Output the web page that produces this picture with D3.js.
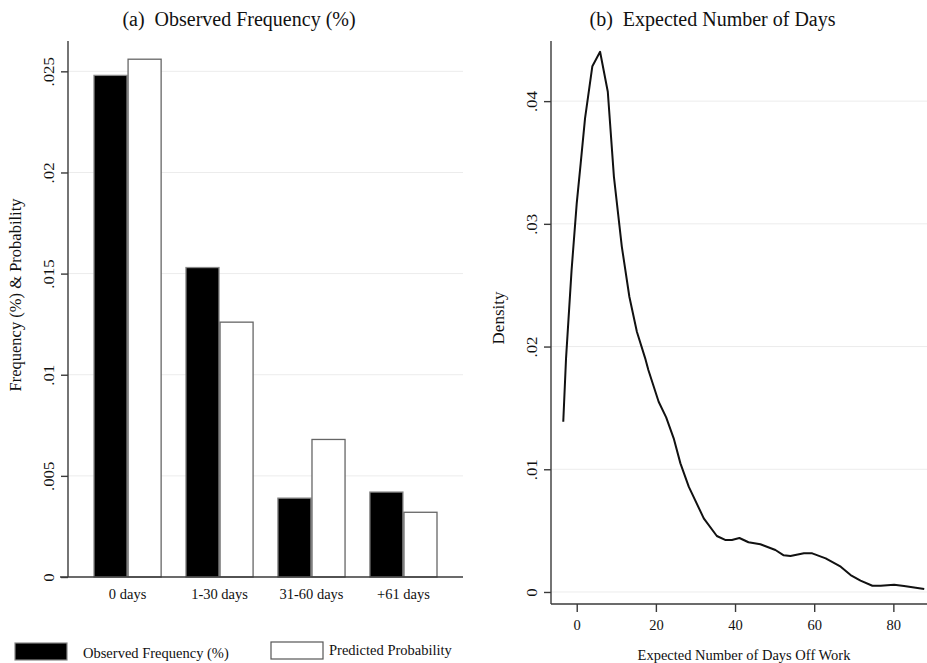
<!DOCTYPE html>
<html>
<head>
<meta charset="utf-8">
<script src="https://cdn.jsdelivr.net/npm/d3@7"></script>
<style>
  body { margin: 0; background: #fff; }
  svg { display: block; font-family: "Liberation Serif", "Times New Roman", serif; }
</style>
</head>
<body>
<div id="chart"></div>
<script>
// panel (a): observed vs predicted by duration group
var categories = ["0 days", "1-30 days", "31-60 days", "+61 days"];
var observed = [0.0248, 0.0153, 0.0039, 0.0042];
var predicted = [0.0256, 0.0126, 0.0068, 0.0032];
var seriesNames = ["Observed Frequency (%)", "Predicted Probability"];
var barTicks = [0, 0.005, 0.01, 0.015, 0.02, 0.025];

// panel (b): density of expected days off work
var daysX = [-3.4, -2.7, -1.3, 0, 1.0, 2.1, 3.95, 5.9, 7.85, 9.4, 11.4, 13.3, 15.2, 17.3, 18.1, 20.7,
  22.6, 24.5, 26.2, 28.3, 32.1, 35.4, 37.5, 39.2, 41.1, 43.4, 46.4, 50.2, 52.3, 54.0, 57.4, 59.5,
  62.9, 66.7, 69.2, 71.7, 74.7, 76.8, 80.2, 82.7, 87.8];
var densityY = [0.01387, 0.01904, 0.02623, 0.03167, 0.03492, 0.03859, 0.04285, 0.04402, 0.04076,
  0.03383, 0.02813, 0.02406, 0.02121, 0.01904, 0.01809, 0.0155, 0.01423, 0.01252, 0.01048, 0.00858,
  0.006, 0.00456, 0.00424, 0.00424, 0.0044, 0.00405, 0.00389, 0.00342, 0.00299, 0.00293, 0.00315,
  0.00315, 0.00274, 0.00206, 0.00138, 0.00092, 0.00051, 0.00051, 0.00059, 0.00049, 0.00024];
var densTicks = [0, 0.01, 0.02, 0.03, 0.04];
var dayTicks = [0, 20, 40, 60, 80];

var fmt = function(d) { return d === 0 ? "0" : d3.format(".3~f")(d).replace(/^0/, ""); };
var serif = "'Liberation Serif', 'Times New Roman', serif";

var svg = d3.select("#chart").append("svg")
    .attr("width", 927)
    .attr("height", 663);

var axisColor = "#3a3a3a", gridColor = "#ececec";

// ---------- panel (a) ----------
var ya = d3.scaleLinear().domain([0, 0.0265]).range([577, 41]);
var xa = d3.scaleBand().domain(categories).range([94, 437]).paddingInner(0.27).paddingOuter(0);
var xs = d3.scaleBand().domain(seriesNames).range([0, xa.bandwidth()]).paddingInner(0.03);

var pa = svg.append("g").attr("class", "panel-a");

pa.append("g").attr("class", "grid")
  .selectAll("line").data(barTicks.filter(function(d) { return d > 0; })).enter()
  .append("line")
    .attr("x1", 68).attr("x2", 463)
    .attr("y1", function(d) { return ya(d); })
    .attr("y2", function(d) { return ya(d); })
    .attr("stroke", gridColor).attr("stroke-width", 1);

var rows = categories.map(function(c, i) { return { cat: c, vals: [observed[i], predicted[i]] }; });

var groups = pa.append("g").attr("class", "bars")
  .selectAll("g").data(rows).enter()
  .append("g")
    .attr("transform", function(d) { return "translate(" + xa(d.cat) + ",0)"; });

groups.selectAll("rect")
  .data(function(d) { return d.vals.map(function(v, j) { return { s: seriesNames[j], v: v, j: j }; }); })
  .enter().append("rect")
    .attr("x", function(d) { return xs(d.s); })
    .attr("width", xs.bandwidth())
    .attr("y", function(d) { return ya(d.v); })
    .attr("height", function(d) { return ya(0) - ya(d.v); })
    .attr("fill", function(d) { return d.j === 0 ? "#000" : "#fff"; })
    .attr("stroke", function(d) { return d.j === 0 ? "#888" : "#666"; })
    .attr("stroke-width", 1.3);

var yAxisA = pa.append("g")
    .attr("transform", "translate(68,0)")
    .call(d3.axisLeft(ya).tickValues(barTicks).tickFormat(fmt).tickSize(7).tickSizeOuter(0))
    .attr("font-family", serif);
yAxisA.select(".domain").attr("d", "M0,41V577").attr("stroke", axisColor).attr("stroke-width", 1.4);
yAxisA.selectAll(".tick line").attr("stroke", axisColor).attr("stroke-width", 1.4);
yAxisA.selectAll(".tick text")
    .attr("x", null).attr("dy", null)
    .attr("transform", "translate(-14,0) rotate(-90) scale(1.2,1)")
    .attr("text-anchor", "middle")
    .attr("font-size", 14).attr("fill", "#111");

// baseline / x axis
var xAxisA = pa.append("g")
    .attr("transform", "translate(0,577)")
    .call(d3.axisBottom(xa).tickSize(0).tickPadding(0))
    .attr("font-family", serif);
xAxisA.select(".domain").attr("d", "M60,0H463").attr("stroke", axisColor).attr("stroke-width", 1.4);
xAxisA.selectAll(".tick text")
    .attr("y", 22).attr("dy", null)
    .attr("font-size", 14.5).attr("fill", "#111");

pa.append("text")
    .attr("transform", "translate(21,295) rotate(-90)")
    .attr("text-anchor", "middle")
    .attr("font-size", 16.5).attr("fill", "#111")
    .text("Frequency (%) & Probability");

pa.append("text")
    .attr("x", 239).attr("y", 26)
    .attr("text-anchor", "middle")
    .attr("font-size", 20).attr("fill", "#111")
    .attr("xml:space", "preserve")
    .text("(a)  Observed Frequency (%)");

// legend
var legend = pa.append("g").attr("class", "legend")
  .selectAll("g").data(seriesNames).enter().append("g");
var legX = [15, 271], legY = [643, 642], legTX = [83, 329], legTY = [658, 655];
legend.append("rect")
    .attr("x", function(d, i) { return legX[i]; })
    .attr("y", function(d, i) { return legY[i]; })
    .attr("width", 52).attr("height", 17)
    .attr("fill", function(d, i) { return i === 0 ? "#000" : "#fff"; })
    .attr("stroke", function(d, i) { return i === 0 ? "#888" : "#555"; })
    .attr("stroke-width", 1.2);
legend.append("text")
    .attr("x", function(d, i) { return legTX[i]; })
    .attr("y", function(d, i) { return legTY[i]; })
    .attr("font-size", 14.5).attr("fill", "#111")
    .text(function(d) { return d; });

// ---------- panel (b) ----------
var xb = d3.scaleLinear().domain([-6.5, 88.5]).range([551, 927]);
var yb = d3.scaleLinear().domain([-0.00098, 0.0449]).range([604, 41]);

var pb = svg.append("g").attr("class", "panel-b");

pb.append("g").attr("class", "grid")
  .selectAll("line").data(densTicks).enter()
  .append("line")
    .attr("x1", 551).attr("x2", 927)
    .attr("y1", function(d) { return yb(d); })
    .attr("y2", function(d) { return yb(d); })
    .attr("stroke", gridColor).attr("stroke-width", 1);

var yAxisB = pb.append("g")
    .attr("transform", "translate(551,0)")
    .call(d3.axisLeft(yb).tickValues(densTicks).tickFormat(fmt).tickSize(7).tickSizeOuter(0))
    .attr("font-family", serif);
yAxisB.select(".domain").attr("d", "M0,41V604").attr("stroke", axisColor).attr("stroke-width", 1.4);
yAxisB.selectAll(".tick line").attr("stroke", axisColor).attr("stroke-width", 1.4);
yAxisB.selectAll(".tick text")
    .attr("x", null).attr("dy", null)
    .attr("transform", "translate(-14,0) rotate(-90) scale(1.2,1)")
    .attr("text-anchor", "middle")
    .attr("font-size", 14).attr("fill", "#111");

var xAxisB = pb.append("g")
    .attr("transform", "translate(0,604)")
    .call(d3.axisBottom(xb).tickValues(dayTicks).tickSize(8).tickSizeOuter(0))
    .attr("font-family", serif);
xAxisB.select(".domain").attr("d", "M551,0H927").attr("stroke", axisColor).attr("stroke-width", 1.4);
xAxisB.selectAll(".tick line").attr("stroke", axisColor).attr("stroke-width", 1.4);
xAxisB.selectAll(".tick text")
    .attr("y", 26).attr("dy", null)
    .attr("font-size", 14.5).attr("fill", "#111");

var pts = daysX.map(function(x, i) { return [x, densityY[i]]; });
pb.append("path")
    .datum(pts)
    .attr("fill", "none")
    .attr("stroke", "#111")
    .attr("stroke-width", 2)
    .attr("stroke-linejoin", "round")
    .attr("d", d3.line()
        .x(function(d) { return xb(d[0]); })
        .y(function(d) { return yb(d[1]); }));

pb.append("text")
    .attr("transform", "translate(504,318) rotate(-90)")
    .attr("text-anchor", "middle")
    .attr("font-size", 17).attr("fill", "#111")
    .text("Density");

pb.append("text")
    .attr("x", 744).attr("y", 660)
    .attr("text-anchor", "middle")
    .attr("font-size", 14.5).attr("fill", "#111")
    .text("Expected Number of Days Off Work");

pb.append("text")
    .attr("x", 712.5).attr("y", 26)
    .attr("text-anchor", "middle")
    .attr("font-size", 20).attr("fill", "#111")
    .attr("xml:space", "preserve")
    .text("(b)  Expected Number of Days");
</script>
</body>
</html>
